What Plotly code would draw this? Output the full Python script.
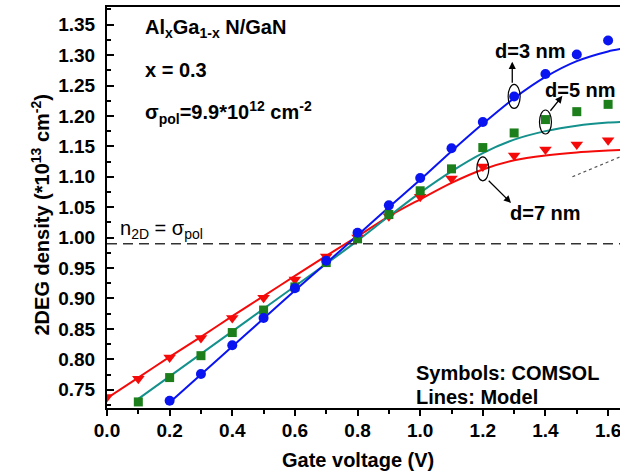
import plotly.graph_objects as go

# COMSOL results (symbols): 2DEG density in units of 1e13 cm^-2 vs gate voltage (V)
vg_d3 = [0.2, 0.3, 0.4, 0.5, 0.6, 0.7, 0.8, 0.9, 1.0, 1.1, 1.2, 1.3, 1.4, 1.5, 1.6]
ns_d3 = [0.732, 0.776, 0.823, 0.868, 0.917, 0.962, 1.008, 1.053, 1.098, 1.147,
         1.190, 1.232, 1.269, 1.301, 1.324]

vg_d5 = [0.1, 0.2, 0.3, 0.4, 0.5, 0.6, 0.7, 0.8, 0.9, 1.0, 1.1, 1.2, 1.3, 1.4, 1.5, 1.6]
ns_d5 = [0.730, 0.770, 0.806, 0.844, 0.881, 0.919, 0.959, 0.998, 1.038, 1.077,
         1.113, 1.148, 1.172, 1.194, 1.207, 1.219]

vg_d7 = [0.0, 0.1, 0.2, 0.3, 0.4, 0.5, 0.6, 0.7, 0.8, 0.9, 1.0, 1.1, 1.2, 1.3, 1.4, 1.5, 1.6]
ns_d7 = [0.738, 0.768, 0.803, 0.835, 0.868, 0.901, 0.931, 0.969, 1.000, 1.035,
         1.067, 1.097, 1.117, 1.135, 1.145, 1.153, 1.160]

# Analytical model (lines)
vm_d3 = [0.2, 0.3, 0.4, 0.5, 0.6, 0.7, 0.8, 0.9, 1.0, 1.1, 1.2, 1.3, 1.4, 1.5, 1.6, 1.64]
nm_d3 = [0.729, 0.775, 0.821, 0.867, 0.913, 0.958, 1.004, 1.050, 1.095, 1.142,
         1.187, 1.229, 1.264, 1.290, 1.306, 1.310]

vm_d5 = [0.1, 0.2, 0.3, 0.4, 0.5, 0.6, 0.7, 0.8, 0.9, 1.0, 1.1, 1.2, 1.3, 1.4, 1.5, 1.6, 1.64]
nm_d5 = [0.735, 0.772, 0.809, 0.846, 0.883, 0.920, 0.957, 0.995, 1.035, 1.074,
         1.109, 1.139, 1.161, 1.175, 1.184, 1.189, 1.190]

vm_d7 = [0.0, 0.1, 0.2, 0.3, 0.4, 0.5, 0.6, 0.7, 0.8, 0.9, 1.0, 1.1, 1.2, 1.3, 1.4,
         1.5, 1.6, 1.64]
nm_d7 = [0.736, 0.770, 0.804, 0.837, 0.871, 0.904, 0.937, 0.970, 1.002, 1.035,
         1.063, 1.090, 1.112, 1.127, 1.135, 1.140, 1.143, 1.144]

# Polarisation charge level (1e13 cm^-2)
sigma_pol = 0.99

# Faint dotted guide at the right edge
guide_x = [1.486, 1.64]
guide_y = [1.100, 1.133]

x_range = [0.0, 1.638]
y_range = [0.720, 1.379]

BLUE = "#0a14f0"
GREEN = "#1c7f1c"
TEAL = "#14918c"
RED = "#f50a0a"
FONT = "Liberation Sans, Arial, sans-serif"


def bold(size):
    return dict(family=FONT, size=size, color="black", weight="bold")


fig = go.Figure()

fig.add_trace(go.Scatter(x=guide_x, y=guide_y, mode="lines",
                         line=dict(color="#555555", width=1.2, dash="dot"),
                         showlegend=False, hoverinfo="skip"))

for vx, ny, col in [(vm_d7, nm_d7, RED), (vm_d5, nm_d5, TEAL), (vm_d3, nm_d3, BLUE)]:
    fig.add_trace(go.Scatter(x=vx, y=ny, mode="lines",
                             line=dict(color=col, width=2, shape="spline", smoothing=0.8),
                             showlegend=False))

fig.add_trace(go.Scatter(x=vg_d7, y=ns_d7, mode="markers",
                         marker=dict(symbol="triangle-down", size=11, color=RED),
                         showlegend=False))
fig.add_trace(go.Scatter(x=vg_d5, y=ns_d5, mode="markers",
                         marker=dict(symbol="square", size=9, color=GREEN),
                         showlegend=False))
fig.add_trace(go.Scatter(x=vg_d3, y=ns_d3, mode="markers",
                         marker=dict(symbol="circle", size=10, color=BLUE),
                         showlegend=False))

# n2D = sigma_pol reference line
fig.add_shape(type="line", xref="x", yref="y", x0=x_range[0], x1=x_range[1],
              y0=sigma_pol, y1=sigma_pol,
              line=dict(color="#333333", width=1.6, dash="10px,6px"))

# Ellipses marking the highlighted points of each curve
for xv, yv in [(vg_d3[11], ns_d3[11]), (vg_d5[13], ns_d5[13] - 0.004), (vg_d7[12], ns_d7[12] - 0.004)]:
    fig.add_shape(type="circle", xref="x", yref="y", xsizemode="pixel", ysizemode="pixel",
                  xanchor=xv, yanchor=yv, x0=-6, x1=6, y0=-12, y1=12,
                  line=dict(color="black", width=1.2), fillcolor="rgba(0,0,0,0)")

# Arrows from ellipses to the thickness labels
arrows = [
    (1.294, 1.289, 1.294, 1.252),
    (1.454, 1.233, 1.412, 1.206),
    (1.290, 1.057, 1.214, 1.096),
]
for hx, hy, tx, ty in arrows:
    fig.add_annotation(x=hx, y=hy, ax=tx, ay=ty, xref="x", yref="y", axref="x", ayref="y",
                       text="", showarrow=True, arrowhead=2, arrowsize=1.1,
                       arrowwidth=1.3, arrowcolor="black")

fig.add_annotation(x=1.351, y=1.307, xref="x", yref="y", text="d=3 nm",
                   showarrow=False, font=bold(20))
fig.add_annotation(x=1.511, y=1.243, xref="x", yref="y", text="d=5 nm",
                   showarrow=False, font=bold(20))
fig.add_annotation(x=1.40, y=1.041, xref="x", yref="y", text="d=7 nm",
                   showarrow=False, font=bold(20))

fig.add_annotation(x=0.115, y=1.344, xref="x", yref="y", xanchor="left",
                   text="Al<sub>x</sub>Ga<sub>1-x</sub> N/GaN", showarrow=False, font=bold(20))
fig.add_annotation(x=0.115, y=1.275, xref="x", yref="y", xanchor="left",
                   text="x = 0.3", showarrow=False, font=bold(20))
fig.add_annotation(x=0.115, y=1.205, xref="x", yref="y", xanchor="left",
                   text="σ<sub>pol</sub>=9.9*10<sup>12</sup> cm<sup>-2</sup>",
                   showarrow=False, font=bold(20))
fig.add_annotation(x=0.035, y=sigma_pol, xref="x", yref="y", xanchor="left", yanchor="bottom",
                   yshift=0, text="n<sub>2D</sub> = σ<sub>pol</sub>", showarrow=False,
                   font=dict(family=FONT, size=20, color="black"))

fig.add_annotation(x=0.98, y=0.778, xref="x", yref="y", xanchor="left",
                   text="Symbols: COMSOL", showarrow=False, font=bold(20))
fig.add_annotation(x=0.98, y=0.738, xref="x", yref="y", xanchor="left",
                   text="Lines: Model", showarrow=False, font=bold(20))

# Axis titles
fig.add_annotation(xref="paper", yref="paper", x=0.5, y=0, xshift=-6, yshift=-52,
                   yanchor="middle", text="Gate voltage (V)", showarrow=False,
                   font=bold(20))
fig.add_annotation(xref="paper", yref="paper", x=0, y=0.5, xshift=-67, yshift=-8,
                   xanchor="center", textangle=-90,
                   text="2DEG density (*10<sup>13</sup> cm<sup>-2</sup>)",
                   showarrow=False, font=bold(20))

fig.update_layout(
    width=620, height=471,
    margin=dict(l=107, r=0, t=7, b=63),
    paper_bgcolor="white", plot_bgcolor="white",
    font=dict(family=FONT, size=19, color="black"),
    xaxis=dict(range=x_range, dtick=0.2, tick0=0, tickformat=".1f",
               showgrid=False, zeroline=False, showline=True, linecolor="black",
               linewidth=2, mirror=True, ticks="outside", ticklen=6, tickwidth=1.5,
               tickcolor="black", tickfont=bold(19), ticklabelstandoff=-2,
               ticklabeloverflow="allow",
               minor=dict(dtick=0.1, ticks="outside", ticklen=4, tickwidth=1.5,
                          tickcolor="black", showgrid=False)),
    yaxis=dict(range=y_range, dtick=0.05, tick0=0.75, tickformat=".2f",
               showgrid=False, zeroline=False, showline=True, linecolor="black",
               linewidth=2, ticks="inside", ticklen=7, tickwidth=1.5,
               tickcolor="black", tickfont=bold(19), ticklabelstandoff=6,
               minor=dict(dtick=0.025, ticks="inside", ticklen=4, tickwidth=1.5,
                          tickcolor="black", showgrid=False)),
)

fig.write_html("out.html")
